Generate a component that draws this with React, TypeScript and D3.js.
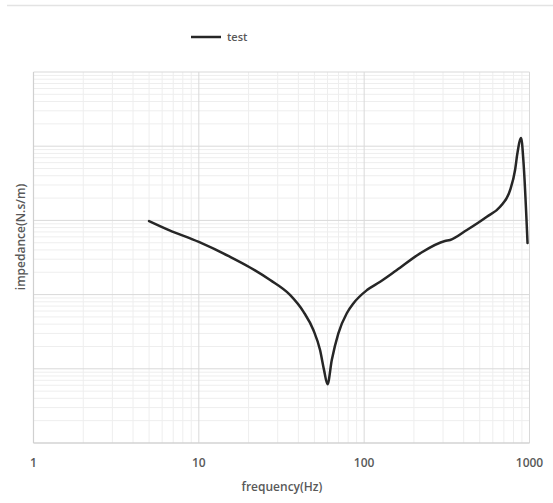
import React from "react";
import * as d3 from "d3";

const freq = [5, 6.6, 10, 15.4, 20.4, 27, 35.6, 42.9, 49.3, 54.1, 57.2, 60, 63.7, 69.8, 78.5, 86, 104, 125, 157, 218, 308, 331, 418, 552, 664, 764, 818, 845, 890, 918, 973];
const impedance = [980, 740, 512, 324, 232, 157, 99, 59, 33.3, 17.9, 9.6, 6.2, 13.1, 30.1, 56, 76, 115, 149, 213, 360, 528, 545, 743, 1122, 1530, 2570, 4780, 8020, 12900, 6510, 496];
const xTicks = [1, 10, 100, 1000];
const xDomain = [1, 1000];
const yDomain = [1, 100000];

export default function App() {
  const W = 553, H = 503;
  const left = 33.5, right = 529.5, top = 72, bottom = 443;
  const x = d3.scaleLog().domain(xDomain).range([left, right]);
  const y = d3.scaleLog().domain(yDomain).range([bottom, top]);

  const xMinor: number[] = [];
  for (let d = 1; d < 1000; d *= 10) for (let k = 2; k <= 9; k++) xMinor.push(d * k);
  const yMinor: number[] = [];
  for (let d = 1; d < 100000; d *= 10) for (let k = 2; k <= 9; k++) yMinor.push(d * k);
  const yMajor = [1, 10, 100, 1000, 10000, 100000];

  const pts = freq.map((f, i) => [f, impedance[i]] as [number, number]);
  const line = d3.line<[number, number]>().x(d => x(d[0])).y(d => y(d[1])).curve(d3.curveMonotoneX);

  const font = "'Open Sans', 'DejaVu Sans', sans-serif";
  return (
    <svg width={W} height={H} style={{ position: "absolute", left: 0, top: 0, background: "#fff" }}>
      <line x1={7} x2={553} y1={5.5} y2={5.5} stroke="#e3e3e3" strokeWidth={1.5} />
      {xMinor.map(v => (
        <line key={"xm" + v} x1={x(v)} x2={x(v)} y1={top} y2={bottom} stroke="#eeeeee" strokeWidth={1} />
      ))}
      {yMinor.map(v => (
        <line key={"ym" + v} x1={left} x2={right} y1={y(v)} y2={y(v)} stroke="#eeeeee" strokeWidth={1} />
      ))}
      {xTicks.map(v => (
        <line key={"xM" + v} x1={x(v)} x2={x(v)} y1={top} y2={bottom} stroke="#d9d9d9" strokeWidth={1} />
      ))}
      {yMajor.map(v => (
        <line key={"yM" + v} x1={left} x2={right} y1={y(v)} y2={y(v)} stroke="#d9d9d9" strokeWidth={1} />
      ))}
      <line x1={left} x2={right} y1={bottom} y2={bottom} stroke="#d0d0d0" strokeWidth={1.2} />
      <line x1={left} x2={left} y1={top} y2={bottom} stroke="#d0d0d0" strokeWidth={1.2} />
      <path d={line(pts) || ""} fill="none" stroke="#262626" strokeWidth={2.5} strokeLinejoin="round" strokeLinecap="round" />
      {xTicks.map(v => (
        <text key={"xt" + v} x={x(v)} y={467} textAnchor="middle" fontFamily={font} fontSize={12} fontWeight={600} fill="#595959">{String(v)}</text>
      ))}
      <text x={282} y={491} textAnchor="middle" fontFamily={font} fontSize={12} fontWeight={600} fill="#595959">frequency(Hz)</text>
      <text transform={`translate(25,237) rotate(-90)`} textAnchor="middle" fontFamily={font} fontSize={12} fontWeight={600} fill="#595959">impedance(N.s/m)</text>
      <line x1={191} x2={221} y1={37} y2={37} stroke="#262626" strokeWidth={2.5} />
      <text x={227} y={41} fontFamily={font} fontSize={11} fontWeight={600} fill="#595959">test</text>
    </svg>
  );
}
